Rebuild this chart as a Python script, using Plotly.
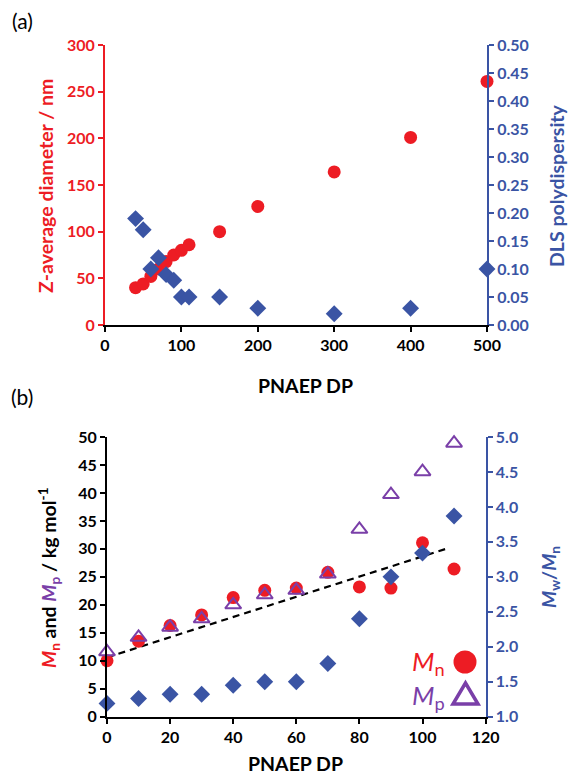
import plotly.graph_objects as go

W, H = 571, 781
RED = "#ED1C24"
BLUE = "#3A54A4"
PURPLE = "#7A3FA8"
FONT = "Lato"

# ---- panel (a) data ----
dp_a = [40, 50, 60, 70, 80, 90, 100, 110, 150, 200, 300, 400, 500]
z_diam = [40, 44, 52, 60, 68, 75, 80, 86, 100, 127, 164, 201, 261]
pdi = [0.19, 0.17, 0.10, 0.12, 0.09, 0.08, 0.05, 0.05, 0.05, 0.03, 0.02, 0.03, 0.10]

# ---- panel (b) data ----
dp_b = [0, 10, 20, 30, 40, 50, 60, 70, 80, 90, 100, 110]
mn = [10.0, 13.5, 16.3, 18.2, 21.3, 22.6, 23.0, 25.8, 23.2, 23.0, 31.1, 26.4]
mp = [11.6, 14.2, 16.0, 17.5, 20.0, 21.8, 22.6, 25.5, 33.5, 39.7, 43.8, 48.9]
mwmn = [1.19, 1.26, 1.32, 1.32, 1.45, 1.50, 1.50, 1.76, 2.40, 3.00, 3.34, 3.87]
fit_x = [0, 108]
fit_y = [10.6, 30.1]


def px(x):
    return x / W


def py(y):
    return 1 - y / H


fig = go.Figure()

fig.add_trace(go.Scatter(x=dp_a, y=z_diam, mode="markers", xaxis="x", yaxis="y",
                         marker=dict(symbol="circle", size=13, color=RED),
                         cliponaxis=False, showlegend=False))
fig.add_trace(go.Scatter(x=dp_a, y=pdi, mode="markers", xaxis="x", yaxis="y2",
                         marker=dict(symbol="diamond", size=13, color=BLUE),
                         cliponaxis=False, showlegend=False))

fig.add_trace(go.Scatter(x=fit_x, y=fit_y, mode="lines", xaxis="x2", yaxis="y3",
                         line=dict(color="black", width=2.2, dash="7px,5px"),
                         showlegend=False))
fig.add_trace(go.Scatter(x=dp_b, y=mn, mode="markers", xaxis="x2", yaxis="y3",
                         marker=dict(symbol="circle", size=13, color=RED),
                         cliponaxis=False, showlegend=False))
fig.add_trace(go.Scatter(x=dp_b, y=mp, mode="markers", xaxis="x2", yaxis="y3",
                         marker=dict(symbol="triangle-up-open", size=14, color=PURPLE,
                                     line=dict(width=2, color=PURPLE)),
                         cliponaxis=False, showlegend=False))
fig.add_trace(go.Scatter(x=dp_b, y=mwmn, mode="markers", xaxis="x2", yaxis="y4",
                         marker=dict(symbol="diamond", size=13, color=BLUE),
                         cliponaxis=False, showlegend=False))

TS = 16
tickfont_k = dict(family=FONT, size=TS, color="black", weight="bold")
tickfont_r = dict(family=FONT, size=TS, color=RED, weight="bold")
tickfont_b = dict(family=FONT, size=TS, color=BLUE, weight="bold")

common = dict(showline=True, linewidth=2, ticks="outside", ticklen=5, tickwidth=2,
              showgrid=False, zeroline=False, fixedrange=True, automargin=False)

top_dom = [py(325), py(45)]
bot_dom = [py(716.7), py(437)]

fig.update_layout(
    width=W, height=H,
    margin=dict(l=0, r=0, t=0, b=0, autoexpand=False),
    plot_bgcolor="white", paper_bgcolor="white",
    xaxis=dict(domain=[px(105), px(487)], range=[0, 500], dtick=100, anchor="y",
               linecolor="black", tickcolor="black", tickfont=tickfont_k, **common),
    yaxis=dict(domain=top_dom, range=[0, 300], dtick=50, anchor="x",
               linecolor=RED, tickcolor=RED, tickfont=tickfont_r, **common),
    yaxis2=dict(range=[0, 0.5], dtick=0.05, tickformat=".2f", anchor="x", overlaying="y",
                side="right", linecolor=BLUE, tickcolor=BLUE, tickfont=tickfont_b, **common),
    xaxis2=dict(domain=[px(107), px(485.6)], range=[0, 120], dtick=20, anchor="y3",
                linecolor="black", tickcolor="black", tickfont=tickfont_k, **common),
    yaxis3=dict(domain=bot_dom, range=[0, 50], dtick=5, anchor="x2",
                linecolor="black", tickcolor="black", tickfont=tickfont_k, **common),
    yaxis4=dict(range=[1, 5], dtick=0.5, tickformat=".1f", anchor="x2", overlaying="y3",
                side="right", linecolor=BLUE, tickcolor=BLUE, tickfont=tickfont_b, **common),
)

ann = []
TT = 19.5


def add_text(x, y, text, size=TT, color="black", angle=0, bold=True, xanchor="center"):
    ann.append(dict(x=px(x), y=py(y), xref="paper", yref="paper", text=text,
                    showarrow=False, textangle=angle, xanchor=xanchor, yanchor="middle",
                    font=dict(family=FONT, size=size, color=color,
                              weight="bold" if bold else "normal")))


add_text(22, 20, "(a)", size=21, bold=False)
add_text(22, 396, "(b)", size=21, bold=False)
add_text(305, 385, "PNAEP DP")
add_text(296, 763, "PNAEP DP")
add_text(45, 186, "Z-average diameter / nm", color=RED, angle=-90)
add_text(556, 186, "DLS polydispersity", color=BLUE, angle=-90)
add_text(49, 577,
         f"<span style='color:{RED}'><i>M</i><sub>n</sub></span> and "
         f"<span style='color:{PURPLE}'><i>M</i><sub>p</sub></span> / kg mol<sup>-1</sup>",
         angle=-90)
add_text(550, 577, "<i>M</i><sub>w</sub>/<i>M</i><sub>n</sub>", color=BLUE, angle=-90)
add_text(447, 662, "<i>M</i><sub>n</sub>", size=26, color=RED, bold=False, xanchor="right")
add_text(447, 696, "<i>M</i><sub>p</sub>", size=26, color=PURPLE, bold=False, xanchor="right")
fig.update_layout(annotations=ann)

# legend glyphs (paper coordinates)
cx, cy, r = 465, 662, 11.5
tri = [(453, 704), (478, 704), (465.5, 683)]
fig.update_layout(shapes=[
    dict(type="circle", xref="paper", yref="paper",
         x0=px(cx - r), x1=px(cx + r), y0=py(cy + r), y1=py(cy - r),
         fillcolor=RED, line=dict(color=RED, width=0)),
    dict(type="path", xref="paper", yref="paper",
         path="M {} {} L {} {} L {} {} Z".format(px(tri[0][0]), py(tri[0][1]), px(tri[1][0]),
                                                 py(tri[1][1]), px(tri[2][0]), py(tri[2][1])),
         line=dict(color=PURPLE, width=3.5)),
])

fig.write_html("out.html", config={"displayModeBar": False},
               post_script="document.body.style.margin='0';document.body.style.overflow='hidden';")
